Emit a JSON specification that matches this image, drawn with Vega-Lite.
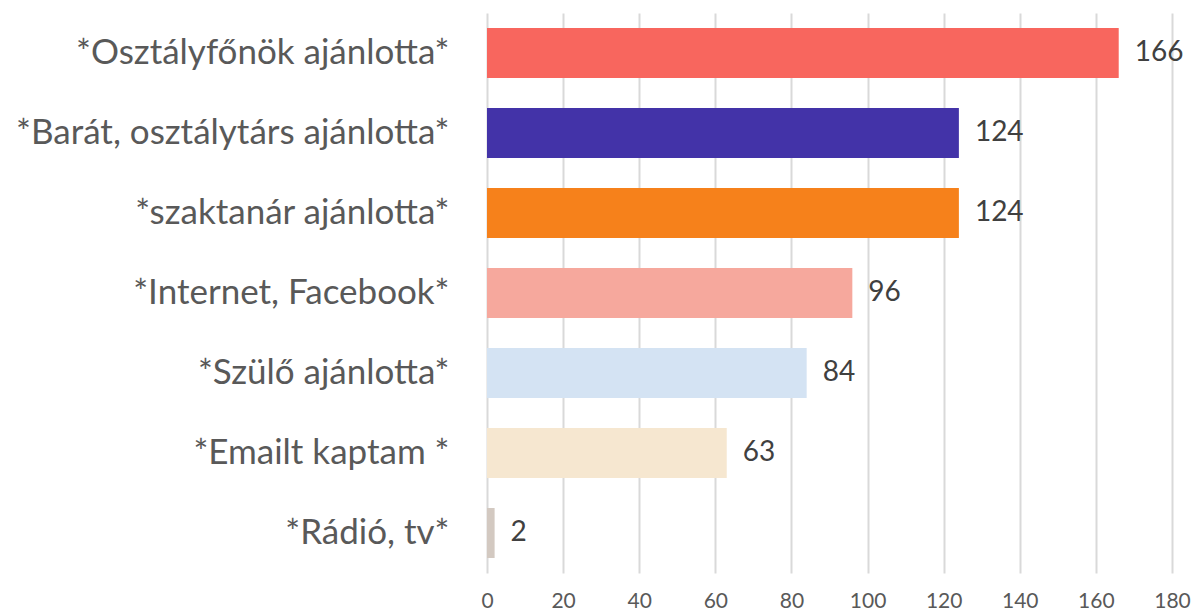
{
  "$schema": "https://vega.github.io/schema/vega-lite/v6.json",
  "width": 685,
  "height": 560,
  "autosize": {"type": "none"},
  "padding": {"left": 487, "top": 13, "right": 20, "bottom": 37},
  "background": "white",
  "config": {"view": {"stroke": null}, "font": "Lato"},
  "data": {"values": [
    {"cat": "*Osztályfőnök ajánlotta*", "value": 166},
    {"cat": "*Barát, osztálytárs ajánlotta*", "value": 124},
    {"cat": "*szaktanár ajánlotta*", "value": 124},
    {"cat": "*Internet, Facebook*", "value": 96},
    {"cat": "*Szülő ajánlotta*", "value": 84},
    {"cat": "*Emailt kaptam *", "value": 63},
    {"cat": "*Rádió, tv*", "value": 2}
  ]},
  "encoding": {
    "y": {"field": "cat", "type": "nominal", "sort": null,
      "scale": {"paddingInner": 0.375, "paddingOuter": 0.1875},
      "axis": {"title": null, "domain": false, "ticks": false, "labelFontSize": 35, "labelColor": "#595959", "labelPadding": 38, "labelLimit": 600, "labelFont": "Lato"}},
    "x": {"field": "value", "type": "quantitative",
      "scale": {"domain": [0, 180], "nice": false},
      "axis": {"title": null, "values": [0,20,40,60,80,100,120,140,160,180], "domain": false, "ticks": false, "grid": true, "gridColor": "#d9d9d9", "gridWidth": 2, "labelFontSize": 21, "labelColor": "#595959", "labelPadding": 17, "labelFlush": false}}
  },
  "layer": [
    {"mark": {"type": "bar"},
     "encoding": {"color": {"field": "cat", "type": "nominal", "legend": null,
       "scale": {"domain": ["*Osztályfőnök ajánlotta*", "*Barát, osztálytárs ajánlotta*", "*szaktanár ajánlotta*", "*Internet, Facebook*", "*Szülő ajánlotta*", "*Emailt kaptam *", "*Rádió, tv*"],
                 "range": ["#F8665E", "#4333A8", "#F6811B", "#F6A89D", "#D4E3F3", "#F6E7D0", "#D3C9C1"]}}}},
    {"mark": {"type": "text", "align": "left", "baseline": "middle", "dx": 16, "fontSize": 28, "color": "#404040"},
     "encoding": {"text": {"field": "value", "type": "quantitative"}}}
  ]
}
